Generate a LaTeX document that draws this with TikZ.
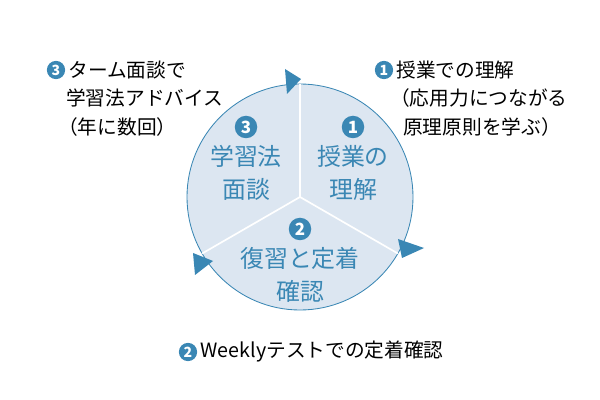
\documentclass[tikz,border=0pt]{standalone}
\usepackage{fontspec}
\setmainfont{Noto Sans CJK JP}
\usetikzlibrary{positioning}
\definecolor{cyc}{HTML}{3A87B4}
\definecolor{cycfill}{HTML}{DCE6F1}
\tikzstyle{num}=[circle, fill=cyc, text=white, inner sep=0pt, minimum size=16pt, font=\bfseries\fontsize{12}{12}\selectfont]
\tikzstyle{onum}=[circle, fill=cyc, text=white, inner sep=0pt, minimum size=13pt, font=\bfseries\fontsize{10}{10}\selectfont]
\tikzstyle{phase}=[text=cyc, align=center, font=\fontsize{17}{24}\selectfont]
\tikzstyle{note}=[text=black, anchor=west, font=\fontsize{14}{14}\selectfont, inner sep=0pt]
\tikzstyle{tip}=[fill=cyc, draw=none]
\begin{document}
\begin{tikzpicture}[x=0.025cm, y=-0.025cm]
\useasboundingbox (0,0) rectangle (600,400);
% cycle
\coordinate (c) at (300,197);
\fill[cycfill] (c) circle (113);
\draw[cyc, line width=0.6pt] (c) circle (113);
\foreach \a in {90,-30,210}
    \draw[white, line width=1.2pt] (c) -- ++(\a:-113);
% arrow tips on the rim
\fill[tip] (285,69) -- (301,79) -- (287,94) -- cycle;
\fill[tip] (398,239) -- (424,248) -- (402,258) -- cycle;
\fill[tip] (213,261) -- (193,253) -- (195,275) -- cycle;
% phases
\node[num] (n3) at (246,127) {3};
\node[phase, below=1pt of n3] (s3) {学習法\\面談};
\node[num] (n1) at (353,127) {1};
\node[phase, below=1pt of n1] (s1) {授業の\\理解};
\node[num] (n2) at (300,229) {2};
\node[phase, below=1pt of n2] (s2) {復習と定着\\確認};
% notes outside
\node[onum] (o3) at (56,70) {3};
\node[note, right=2pt of o3] (t3a) {ターム面談で};
\node[note] (t3b) at (66,98) {学習法アドバイス};
\node[note] (t3c) at (58,127) {（年に数回）};
\node[onum] (o1) at (384,70) {1};
\node[note, right=2pt of o1] (t1a) {授業での理解};
\node[note] (t1b) at (390,98) {（応用力につながる};
\node[note] (t1c) at (403,127) {原理原則を学ぶ）};
\node[onum] (o2) at (188,352) {2};
\node[note, right=2pt of o2] (t2) {Weeklyテストでの定着確認};
\end{tikzpicture}
\end{document}
